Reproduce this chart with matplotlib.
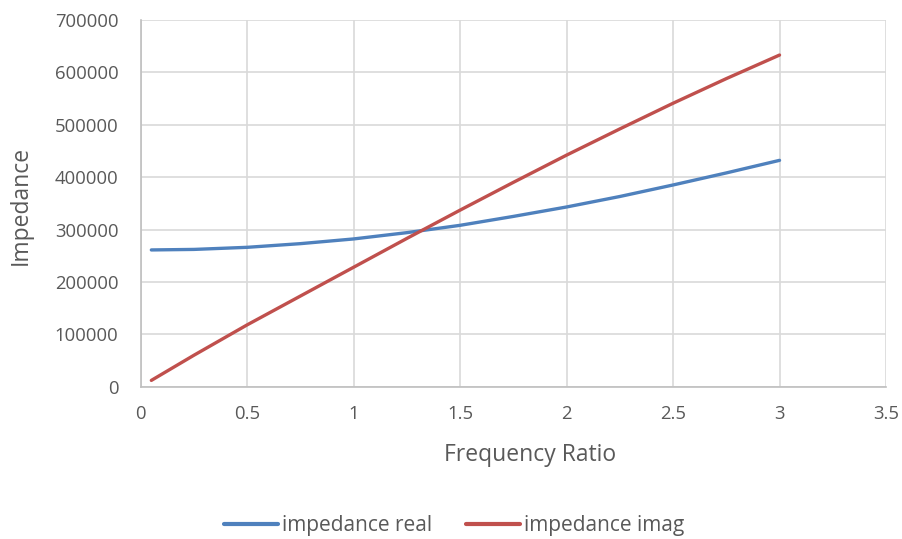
import numpy as np
import matplotlib.pyplot as plt

# frequency ratio and impedance values
freq_ratio = [0.05, 0.25, 0.5, 0.75, 1.0, 1.25, 1.5, 1.75, 2.0, 2.25, 2.5, 2.75, 3.0]
impedance_real = [261000, 262000, 266000, 273000, 282000, 294000, 308000,
                  325000, 343000, 363000, 385000, 408000, 432000]
impedance_imag = [12000, 60000, 118000, 173000, 228000, 283000, 337000,
                  390000, 442000, 492000, 541000, 588000, 633000]

plt.rcParams['font.family'] = ['Open Sans', 'DejaVu Sans']
text_color = '#595959'

fig = plt.figure(figsize=(9.03, 5.39), dpi=100)
ax = fig.add_axes([0.1558, 0.2826, 0.8254, 0.6804])

ax.plot(freq_ratio, impedance_real, color='#4f81bd', lw=2.4, label='impedance real',
        solid_capstyle='round')
ax.plot(freq_ratio, impedance_imag, color='#c0504d', lw=2.4, label='impedance imag',
        solid_capstyle='round')

ax.set_xlim(0, 3.5)
ax.set_ylim(0, 700000)
ax.set_xticks(np.arange(0, 3.51, 0.5))
ax.set_xticklabels(['0', '0.5', '1', '1.5', '2', '2.5', '3', '3.5'])
ax.set_yticks(np.arange(0, 700001, 100000))
ax.set_yticklabels([str(v) for v in range(0, 700001, 100000)])

ax.grid(True, color='#d9d9d9', lw=1.2)
ax.set_axisbelow(True)
for side in ['top', 'right']:
    ax.spines[side].set_visible(False)
for side in ['left', 'bottom']:
    ax.spines[side].set_color('#bfbfbf')
    ax.spines[side].set_linewidth(1.2)

ax.tick_params(axis='both', length=0, labelsize=13.3, colors=text_color)
ax.tick_params(axis='y', pad=16)
ax.tick_params(axis='x', pad=13)

ax.set_xlabel('Frequency Ratio', fontsize=16.5, color=text_color)
ax.set_ylabel('Impedance', fontsize=16.5, color=text_color)
ax.xaxis.set_label_coords(0.522, -0.153)
ax.yaxis.set_label_coords(-0.1445, 0.495)

fig.legend(loc='lower center', bbox_to_anchor=(0.503, -0.03), ncol=2, frameon=False,
           fontsize=15, labelcolor=text_color, handlelength=2.6, handletextpad=0.2,
           columnspacing=1.6)
for line in fig.legends[0].get_lines():
    line.set_linewidth(3)

fig.savefig('out.png', dpi=100)
